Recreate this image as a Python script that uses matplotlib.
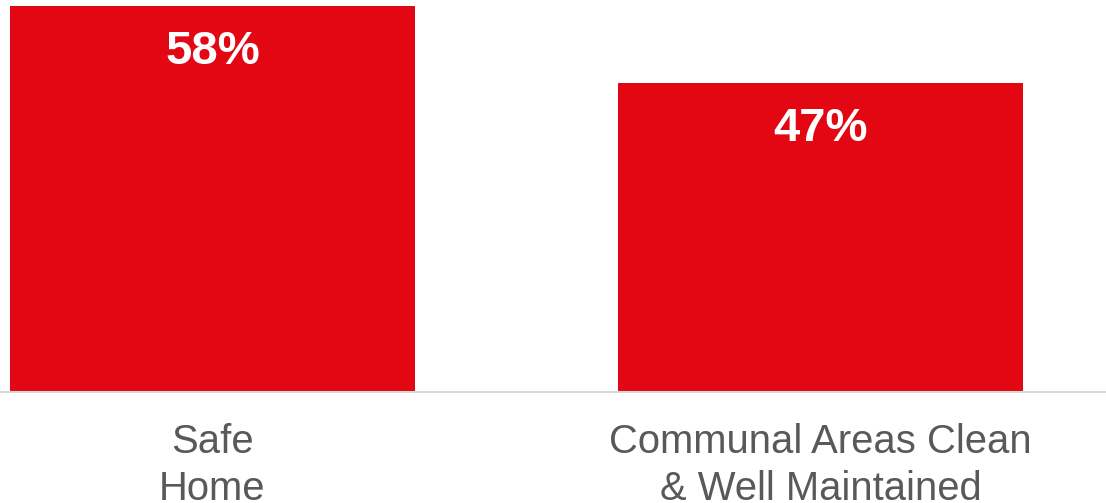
import matplotlib
matplotlib.use("Agg")
import matplotlib.pyplot as plt

categories = ["Safe\nHome", "Communal Areas Clean\n& Well Maintained"]
values = [58.2, 46.6]
value_labels = ["58%", "47%"]

bar_color = "#E30613"
plt.rcParams['font.family'] = ['Liberation Sans', 'DejaVu Sans']

fig = plt.figure(figsize=(11.06, 5.03), dpi=100)
ax = fig.add_axes([0, (503 - 392) / 503, 1, 392 / 503])

x = list(range(len(categories)))
bars = ax.bar(x, values, width=0.666, color=bar_color, zorder=2)

for xi, v, lab in zip(x, values, value_labels):
    ax.annotate(lab, xy=(xi, v), xytext=(0, -17.0), textcoords="offset points",
                ha="center", va="top", color="white", fontsize=34, fontweight="bold")

ax.set_xlim(-0.3495, 1.4696)
ax.set_ylim(0, 59.1)
ax.set_xticks(x)
ax.set_xticklabels(categories, fontsize=28.8, color="#595959", linespacing=1.33)
ax.tick_params(axis="x", length=0, pad=22)
ax.set_yticks([])
for s in ["top", "left", "right"]:
    ax.spines[s].set_visible(False)
ax.spines["bottom"].set_color("#D9D9D9")
ax.spines["bottom"].set_linewidth(1.5)
ax.spines["bottom"].set_zorder(3)

fig.savefig("out.png", dpi=100)
